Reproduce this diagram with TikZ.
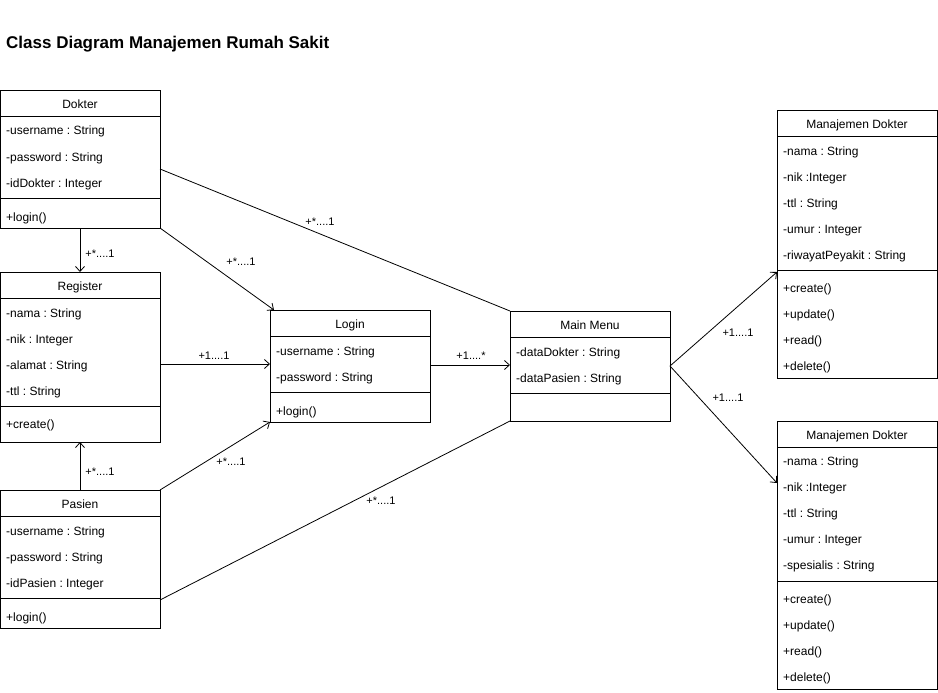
\documentclass[tikz,border=0pt]{standalone}
\usepackage{fontspec}
\setmainfont{Liberation Sans}
\frenchspacing
\usetikzlibrary{calc,arrows.meta}
\tikzset{
  box/.style={draw, rectangle, line width=0.9pt, anchor=north west, minimum width=160, inner sep=0, outer sep=0},
  sepline/.style={line width=0.9pt},
  ctitle/.style={inner sep=0, anchor=base, font=\fontsize{12}{14}\selectfont},
  row/.style={inner sep=0, anchor=base west, font=\fontsize{12}{14}\selectfont},
  conn/.style={line width=0.8pt},
  arr/.style={conn, -{Straight Barb[length=5pt,width=9pt,line width=0.8pt]}},
  lbl/.style={inner sep=0, anchor=base, font=\fontsize{11}{13}\selectfont},
  heading/.style={inner sep=0, anchor=base west, font=\fontsize{17}{20}\selectfont\bfseries}
}
\newcommand{\umlclass}[7]{%
  \node[box, minimum height={#6-#3}] (#1) at (#2,#3) {};
  \draw[sepline] (#2,#4) -- ++(160,0);
  \draw[sepline] (#2,#5) -- ++(160,0);
  \node[ctitle] (#1-t) at ({#2+80},{#3+18.3}) {#7};
}
\newcommand{\umlrows}[4]{%
  \foreach \t [count=\i] in {#4} {\node[row] (#1\i) at ({#2+6},{#3+26*(\i-1)}) {\t};}
}
\begin{document}
\begin{tikzpicture}[x=1pt,y=-1pt]
\useasboundingbox (0,0) rectangle (938,693);
\node[heading] (title) at (6,48.5) {Class Diagram Manajemen Rumah Sakit};

% Dokter
\umlclass{dokter}{0}{90}{116}{198}{228}{Dokter}
\umlrows{dokter-a}{0}{135}{-username : String,-password : String,-idDokter : Integer}
\umlrows{dokter-m}{0}{221}{+login()}

% Register
\umlclass{register}{0}{272}{298}{406}{442}{Register}
\umlrows{register-a}{0}{317}{-nama : String,-nik : Integer,-alamat : String,-ttl : String}
\umlrows{register-m}{0}{428}{+create()}

% Pasien
\umlclass{pasien}{0}{490}{516}{598}{628}{Pasien}
\umlrows{pasien-a}{0}{535}{-username : String,-password : String,-idPasien : Integer}
\umlrows{pasien-m}{0}{621}{+login()}

% Login
\umlclass{login}{270}{310}{336}{392}{422}{Login}
\umlrows{login-a}{270}{355}{-username : String,-password : String}
\umlrows{login-m}{270}{415}{+login()}

% Main Menu
\umlclass{main}{510}{311}{337}{393}{421}{Main Menu}
\umlrows{main-a}{510}{356}{-dataDokter : String,-dataPasien : String}

% Manajemen Dokter 1
\umlclass{mdA}{777}{110}{136}{270}{378}{Manajemen Dokter}
\umlrows{mdA-a}{777}{155}{-nama : String,-nik :Integer,-ttl : String,-umur : Integer,-riwayatPeyakit : String}
\umlrows{mdA-m}{777}{292.5}{+create(),+update(),+read(),+delete()}

% Manajemen Dokter 2
\umlclass{mdB}{777}{421}{447}{581}{689}{Manajemen Dokter}
\umlrows{mdB-a}{777}{465.5}{-nama : String,-nik :Integer,-ttl : String,-umur : Integer,-spesialis : String}
\umlrows{mdB-m}{777}{603}{+create(),+update(),+read(),+delete()}

% connectors
\draw[arr] (dokter.south) -- (register.north);
\draw[arr] (dokter.south east) -- ($(login.north west)+(4,0)$);
\draw[conn] ($(dokter.east)+(0,10)$) -- (main.north west);
\draw[arr] ($(register.east)+(0,7)$) -- ($(login.west)+(0,-2)$);
\draw[arr] (pasien.north east) -- (login.south west);
\draw[conn] ($(pasien.east)+(0,41)$) -- (main.south west);
\draw[arr] ($(login.east)+(0,-1)$) -- ($(main.west)+(0,-1)$);
\draw[arr] (main.east) -- ($(mdA.west)+(0,28)$);
\draw[arr] (main.east) -- ($(mdB.west)+(0,-72)$);
\draw[arr] (pasien.north) -- (register.south);

% labels
\node[lbl] (l1) at (100,257) {+*....1};
\node[lbl] (l2) at (241,265.5) {+*....1};
\node[lbl] (l3) at (320,225) {+*....1};
\node[lbl] (l4) at (214,359) {+1....1};
\node[lbl] (l5) at (471,359) {+1....*};
\node[lbl] (l6) at (231,465.5) {+*....1};
\node[lbl] (l7) at (381,504.5) {+*....1};
\node[lbl] (l8) at (738,336) {+1....1};
\node[lbl] (l9) at (728,401.5) {+1....1};
\node[lbl] (l10) at (100,475.5) {+*....1};
\end{tikzpicture}
\end{document}
